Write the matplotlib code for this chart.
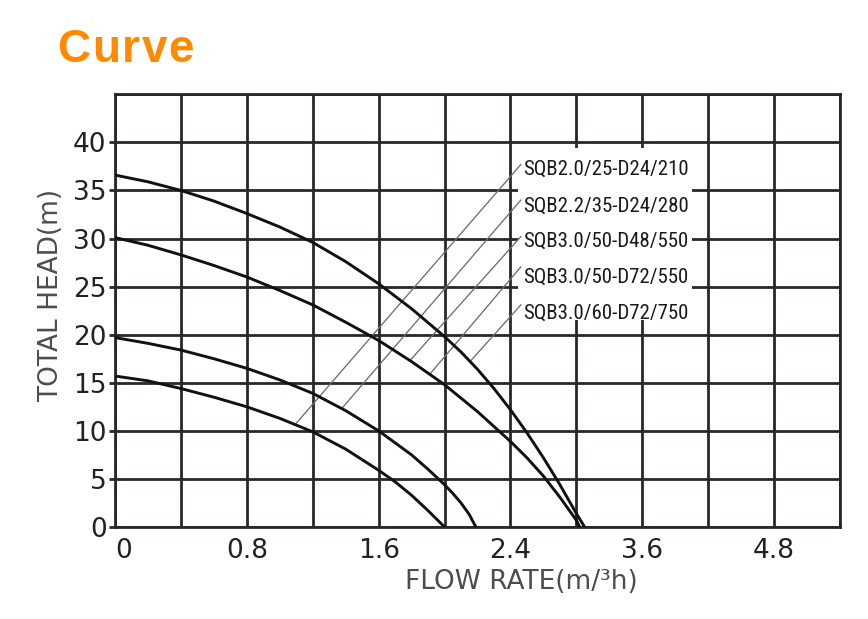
import matplotlib
matplotlib.use("Agg")
import matplotlib.pyplot as plt
from matplotlib import font_manager
from matplotlib.patches import Rectangle
import numpy as np

# ---------------- data ----------------
curve_a_x = [0.0, 0.2, 0.4, 0.6, 0.8, 1.0, 1.2, 1.4, 1.6, 1.7, 1.8, 1.9, 2.0]
curve_a_y = [15.7, 15.2, 14.4, 13.5, 12.5, 11.3, 9.9, 8.1, 5.9, 4.7, 3.3, 1.7, 0.0]

curve_b_x = [0.0, 0.2, 0.4, 0.6, 0.8, 1.0, 1.2, 1.4, 1.6, 1.8, 1.9, 2.0, 2.05, 2.1, 2.15, 2.19]
curve_b_y = [19.7, 19.1, 18.4, 17.5, 16.5, 15.3, 13.9, 12.1, 10.0, 7.5, 6.0, 4.4, 3.5, 2.5, 1.3, 0.0]

curve_c_x = [0.0, 0.2, 0.4, 0.6, 0.8, 1.0, 1.2, 1.4, 1.6, 1.8, 2.0, 2.2, 2.4, 2.5, 2.6, 2.7, 2.8, 2.82]
curve_c_y = [30.1, 29.3, 28.3, 27.2, 26.0, 24.6, 23.1, 21.3, 19.4, 17.2, 14.8, 12.0, 8.9, 7.2, 5.3, 3.1, 0.7, 0.0]

curve_d_x = [0.0, 0.2, 0.4, 0.6, 0.8, 1.0, 1.2, 1.4, 1.6, 1.8, 2.0, 2.1, 2.2, 2.3, 2.4, 2.5, 2.6, 2.7, 2.8, 2.85]
curve_d_y = [36.6, 35.9, 35.0, 33.9, 32.6, 31.2, 29.6, 27.6, 25.3, 22.7, 19.8, 18.2, 16.4, 14.4, 12.2, 9.8, 7.2, 4.4, 1.4, 0.0]

labels = ["SQB2.0/25-D24/210", "SQB2.2/35-D24/280", "SQB3.0/50-D48/550",
          "SQB3.0/50-D72/550", "SQB3.0/60-D72/750"]
label_curve = [0, 1, 2, 2, 3]          # which curve each leader points to
leader_end_x = [1.093, 1.376, 1.79, 1.91, 2.155]
label_head = [37.2, 33.4, 29.7, 26.0, 22.2]
leader_start_head = [37.7, 34.0, 30.2, 27.05, 23.1]

x_tick_pos = [0.0, 0.8, 1.6, 2.4, 3.2, 4.0]
x_tick_labels = ["0", "0.8", "1.6", "2.4", "3.6", "4.8"]
y_ticks = [0, 5, 10, 15, 20, 25, 30, 35, 40]

title_text = "Curve"

# ---------------- fonts ----------------
available = {f.name for f in font_manager.fontManager.ttflist}
def pick(*names):
    for n in names:
        if n in available:
            return n
    return "DejaVu Sans"

narrow = pick("Liberation Sans Narrow", "DejaVu Sans Condensed", "Roboto Condensed", "Liberation Sans")
narrow_size = 15 if narrow in ("Liberation Sans Narrow", "Roboto Condensed") else (13.5 if narrow == "DejaVu Sans Condensed" else 12.5)
bold_font = pick("Liberation Sans", "Arial", "DejaVu Sans")
axis_font = "DejaVu Sans"

# ---------------- figure ----------------
fig = plt.figure(figsize=(8.68, 6.19), dpi=100)
ax = fig.add_axes([115/868, 1-527/619, (840-115)/868, (527-94.3)/619])

ax.set_xlim(0, 4.4)
ax.set_ylim(0, 45)

grid_color = "#2b2727"
for gx in np.arange(0, 4.41, 0.4):
    ax.axvline(gx, color=grid_color, lw=2.0, zorder=1)
for gy in np.arange(0, 45.1, 5):
    ax.axhline(gy, color=grid_color, lw=2.0, zorder=1)

for s in ax.spines.values():
    s.set_color(grid_color)
    s.set_linewidth(2.0)
    s.set_zorder(1)

curves = [(curve_a_x, curve_a_y), (curve_b_x, curve_b_y),
          (curve_c_x, curve_c_y), (curve_d_x, curve_d_y)]
for cx, cy in curves:
    ax.plot(cx, cy, color="#111111", lw=2.1, solid_capstyle="round",
            solid_joinstyle="round", zorder=4)

# white box behind labels
ax.add_patch(Rectangle((2.447, 21.5), 3.503-2.447, 39.45-21.5,
                       facecolor="white", edgecolor="none", zorder=2))

leader_start_x = 2.463
for i, lab in enumerate(labels):
    cx, cy = curves[label_curve[i]]
    ex = leader_end_x[i]
    ey = float(np.interp(ex, cx, cy))
    ax.plot([leader_start_x, ex], [leader_start_head[i], ey], color="#6e6e6e",
            lw=0.95, zorder=3)
    ax.text(2.475, label_head[i], lab, family=narrow, fontsize=narrow_size,
            color="#1a1a1a", ha="left", va="center", zorder=5)

ax.set_xticks(x_tick_pos)
ax.set_xticklabels(x_tick_labels)
ax.set_yticks(y_ticks)
ax.tick_params(axis="x", length=0, pad=8, labelsize=19, labelcolor="#222222")
ax.tick_params(axis="y", length=4, width=2.0, color=grid_color, pad=2,
               labelsize=19, labelcolor="#222222")
for t in ax.get_xticklabels() + ax.get_yticklabels():
    t.set_family(axis_font)
ax.get_xticklabels()[0].set_horizontalalignment("left")

fig.text(521/868, 1-582/619, "FLOW RATE(m/³h)", family=axis_font, fontsize=19,
         color="#4d4d4d", ha="center", va="center")
fig.text(51/868, 1-295/619, "TOTAL HEAD(m)", family=axis_font, fontsize=19,
         color="#4d4d4d", ha="center", va="center", rotation=90)

# title with slight letter spacing
renderer = fig.canvas.get_renderer()
x_px = 57.0
tracking_px = 1.8
for ch in title_text:
    t = fig.text(x_px/868, 1-61.5/619, ch, family=bold_font, fontsize=33,
                 weight="bold", color="#ff8a00", ha="left", va="baseline")
    w = t.get_window_extent(renderer=renderer).width
    x_px += w + tracking_px

fig.savefig("out.png", dpi=100)
